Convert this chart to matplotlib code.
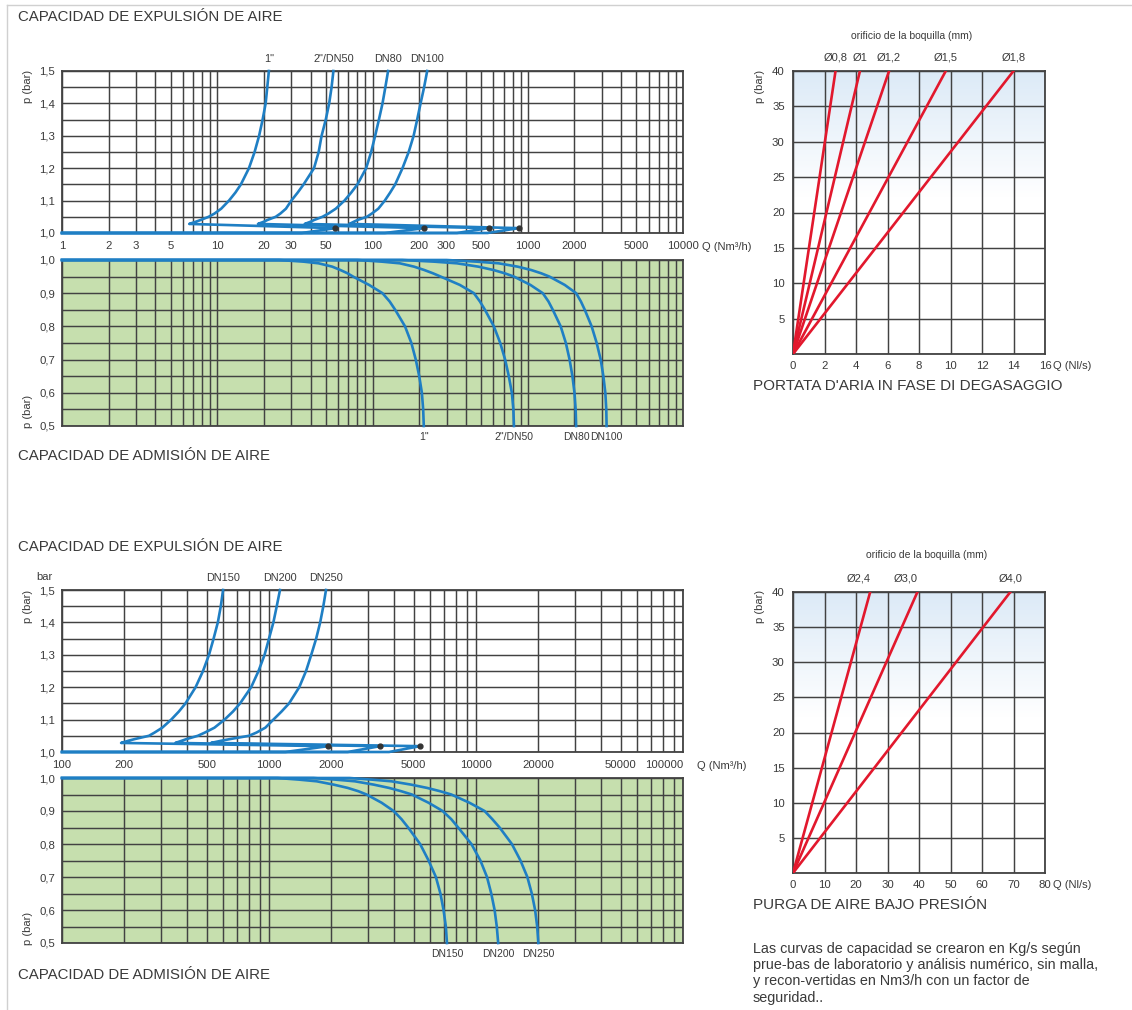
import numpy as np
import matplotlib
matplotlib.use('Agg')
import matplotlib.pyplot as plt
from matplotlib.ticker import FixedLocator, NullFormatter, MultipleLocator
from matplotlib.colors import LinearSegmentedColormap
from matplotlib.lines import Line2D

plt.rcParams['font.family'] = ['Liberation Sans', 'DejaVu Sans']

W, H = 1132, 1010
GRID = '#424242'
TXT = '#3a3a3a'
BLUE = '#1f7fc4'
RED = '#e2182d'
GREEN = '#c6dfae'

# ---- small valves: 1", 2"/DN50, DN80, DN100 (Q in Nm3/h, p in bar)
small_names = ['1"', '2"/DN50', 'DN80', 'DN100']
small_exp_p = [1.028, 1.035, 1.04, 1.05, 1.06, 1.075, 1.1, 1.125, 1.15, 1.2,
               1.25, 1.3, 1.35, 1.4, 1.45, 1.5]
small_exp_q = [
    [6.6, 7.3, 7.8, 8.8, 9.6, 10.6, 11.9, 13.1, 14.2, 16, 17.4, 18.6, 19.6, 20.5, 21.0, 21.5],
    [18.3, 20, 21, 23.8, 25.5, 27.7, 30, 33, 36, 42, 45, 47, 50, 52.6, 54.5, 56],
    [36.6, 40, 42, 47.6, 52, 58, 66, 73, 80, 91, 98, 104, 110, 116, 121, 126],
    [71, 76, 80, 92, 99, 109, 120, 130, 140, 156, 171, 184, 194, 204, 215, 225],
]
small_base_end = [35, 120, 350, 550]
small_dot_q = [57.7, 216, 560, 875]
small_dot_p = 1.015

small_adm_p = [1.0, 1.0, 0.995, 0.99, 0.98, 0.97, 0.96, 0.95, 0.925, 0.9, 0.875,
               0.85, 0.8, 0.75, 0.7, 0.65, 0.6, 0.55, 0.5]
small_adm_q = [
    [1, 25, 36, 45, 55, 62, 69, 75, 95, 116, 129, 140, 162, 178, 190, 200, 208, 212, 214],
    [1, 80, 115, 150, 185, 215, 245, 275, 365, 450, 492, 530, 605, 665, 715, 755, 790, 808, 815],
    [1, 155, 250, 350, 480, 600, 710, 815, 1040, 1250, 1360, 1450, 1630, 1760, 1860, 1940,
     2000, 2035, 2050],
    [1, 300, 470, 650, 860, 1050, 1220, 1380, 1730, 2050, 2200, 2330, 2580, 2780, 2950, 3070,
     3160, 3205, 3220],
]
small_xticks = [1, 2, 3, 5, 10, 20, 30, 50, 100, 200, 300, 500, 1000, 2000, 5000, 10000]

# ---- large valves: DN150, DN200, DN250
large_names = ['DN150', 'DN200', 'DN250']
large_exp_p = small_exp_p
large_exp_q = [
    [193, 210, 225, 263, 280, 305, 337, 367, 395, 442, 480, 513, 540, 566, 585, 600],
    [353, 380, 400, 453, 490, 545, 610, 670, 725, 820, 890, 952, 1000, 1050, 1090, 1130],
    [525, 590, 650, 800, 870, 960, 1050, 1150, 1250, 1400, 1510, 1600, 1690, 1767, 1830, 1885],
]
large_base_end = [1200, 2400, 3800]
large_dot_q = [1930, 3440, 5360]
large_dot_p = 1.018

large_adm_p = small_adm_p
large_adm_q = [
    [100, 1100, 1400, 1700, 2050, 2400, 2700, 2960, 3500, 4000, 4370, 4700, 5370, 5900, 6400,
     6730, 6970, 7150, 7240],
    [100, 1640, 2100, 2600, 3200, 3800, 4350, 4900, 5900, 6900, 7600, 8200, 9500, 10500, 11300,
     11850, 12300, 12600, 12800],
    [100, 2450, 3150, 3900, 4850, 5800, 6700, 7600, 9300, 11000, 12000, 13000, 14900, 16400,
     17700, 18600, 19300, 19750, 20000],
]
large_xticks = [100, 200, 500, 1000, 2000, 5000, 10000, 20000, 50000, 100000]

# ---- nozzle lines (Q in Nl/s reached at 40 bar)
deg_orif = ['Ø0,8', 'Ø1', 'Ø1,2', 'Ø1,5', 'Ø1,8']
deg_q40 = [2.7, 4.25, 6.1, 9.7, 14.0]
purge_orif = ['Ø2,4', 'Ø3,0', 'Ø4,0']
purge_q40 = [24.5, 39.5, 69.0]

fig = plt.figure(figsize=(W / 100, H / 100), dpi=100)


def rect(l, t, r, b):
    return [l / W, 1 - b / H, (r - l) / W, (b - t) / H]


def ftext(x, y, s, **kw):
    kw.setdefault('color', TXT)
    fig.text(x / W, 1 - y / H, s, **kw)


def style(ax):
    ax.grid(True, which='both', color=GRID, lw=1.05)
    ax.set_axisbelow(True)
    ax.tick_params(which='both', length=0, labelsize=8.2, colors=TXT)
    for s in ax.spines.values():
        s.set_color(GRID)
        s.set_linewidth(1.3)


def log_panel(r, qmin, qmax, pmin, pmax, face, xticks=None):
    ax = fig.add_axes(r, facecolor=face)
    ax.set_xscale('log')
    ax.set_xlim(qmin, qmax)
    ax.set_ylim(pmin, pmax)
    k0, k1 = int(round(np.log10(qmin))), int(round(np.log10(qmax)))
    minor = [m * 10.0 ** k for k in range(k0, k1) for m in range(1, 10)]
    ax.xaxis.set_minor_locator(FixedLocator(minor))
    ax.xaxis.set_minor_formatter(NullFormatter())
    if xticks is None:
        ax.set_xticks([10.0 ** k for k in range(k0, k1 + 1)])
        ax.tick_params(labelbottom=False)
    else:
        ax.set_xticks(xticks)
        ax.set_xticklabels([str(v) for v in xticks])
    yv = np.round(np.arange(pmin, pmax + 0.01, 0.1), 1)
    ax.set_yticks(yv)
    ax.set_yticklabels([f'{v:.1f}'.replace('.', ',') for v in yv])
    ax.yaxis.set_minor_locator(MultipleLocator(0.05))
    style(ax)
    ax.tick_params(axis='x', pad=6)
    ax.tick_params(axis='y', pad=5)
    return ax


def expulsion(ax, qmin, names, qs, ps, base_end, dot_q, dot_p):
    for name, q, be, dq in zip(names, qs, base_end, dot_q):
        xx = [qmin, be, dq] + q
        yy = [1.0, 1.0, dot_p] + ps
        ax.plot(xx, yy, color=BLUE, lw=1.9, solid_joinstyle='round', clip_on=False, zorder=3)
        ax.annotate(name, (q[-1], 1), xycoords=('data', 'axes fraction'),
                    xytext=(0, 5), textcoords='offset points', ha='center', va='bottom',
                    fontsize=7.8, color=TXT)
    ax.plot(dot_q, [dot_p] * len(dot_q), 'o', color='#333333', ms=3.5, zorder=4)


def admission(ax, names, qs, ps):
    for name, q in zip(names, qs):
        ax.plot(q, ps, color=BLUE, lw=1.9, solid_joinstyle='round', clip_on=False, zorder=3)
        ax.annotate(name, (q[-1], 0), xycoords=('data', 'axes fraction'),
                    xytext=(0, -4), textcoords='offset points', ha='center', va='top',
                    fontsize=7.5, color=TXT)


def nozzle_panel(r, xmax, xstep, orifs, q40, aligns):
    ax = fig.add_axes(r)
    cmap = LinearSegmentedColormap.from_list('sky', ['#ffffff', '#dceaf7'])
    grad = np.linspace(0, 1, 100).reshape(-1, 1)
    ax.imshow(grad, extent=[0, xmax, 22, 40], origin='lower', aspect='auto', cmap=cmap, zorder=0)
    ax.set_xlim(0, xmax)
    ax.set_ylim(0, 40)
    ax.set_xticks(np.arange(0, xmax + 1, xstep))
    ax.set_yticks(np.arange(0, 41, 5))
    ax.set_yticklabels([''] + [str(v) for v in range(5, 41, 5)])
    style(ax)
    ax.tick_params(axis='x', pad=5)
    ax.tick_params(axis='y', pad=6)
    for name, q, ha in zip(orifs, q40, aligns):
        ax.plot([0, q], [0, 40], color=RED, lw=1.9, zorder=3)
        ax.annotate(name, (q, 40), xytext=(0, 6), textcoords='offset points',
                    ha=ha, va='bottom', fontsize=8, color=TXT)
    return ax


# ---- top block
ax1 = log_panel(rect(62, 71, 683, 233), 1, 10000, 1.0, 1.5, 'white', small_xticks)
expulsion(ax1, 1, small_names, small_exp_q, small_exp_p, small_base_end, small_dot_q, small_dot_p)
ax2 = log_panel(rect(62, 260, 683, 426), 1, 10000, 0.5, 1.0, GREEN)
admission(ax2, small_names, small_adm_q, small_adm_p)

# ---- bottom block
ax3 = log_panel(rect(62, 590, 683, 752), 100, 100000, 1.0, 1.5, 'white', large_xticks)
ax3.get_xticklabels()[-1].set_horizontalalignment('right')
expulsion(ax3, 100, large_names, large_exp_q, large_exp_p, large_base_end, large_dot_q, large_dot_p)
ax4 = log_panel(rect(62, 778, 683, 943), 100, 100000, 0.5, 1.0, GREEN)
admission(ax4, large_names, large_adm_q, large_adm_p)

# ---- right panels
ax5 = nozzle_panel(rect(793, 71, 1045, 354), 16, 2, deg_orif, deg_q40, ['center'] * 5)
ax6 = nozzle_panel(rect(793, 592, 1045, 873), 80, 10, purge_orif, purge_q40, ['right', 'right', 'center'])

# ---- texts
ftext(18, 17, 'CAPACIDAD DE EXPULSIÓN DE AIRE', fontsize=10.8, va='center')
ftext(18, 456, 'CAPACIDAD DE ADMISIÓN DE AIRE', fontsize=10.8, va='center')
ftext(18, 547, 'CAPACIDAD DE EXPULSIÓN DE AIRE', fontsize=10.8, va='center')
ftext(18, 975, 'CAPACIDAD DE ADMISIÓN DE AIRE', fontsize=10.8, va='center')
ftext(702, 247, 'Q (Nm³/h)', fontsize=8, va='center')
ftext(697, 766, 'Q (Nm³/h)', fontsize=8, va='center')
ftext(28, 70, 'p (bar)', fontsize=8, rotation=90, va='top', ha='center')
ftext(28, 428, 'p (bar)', fontsize=8, rotation=90, va='bottom', ha='center')
ftext(28, 590, 'p (bar)', fontsize=8, rotation=90, va='top', ha='center')
ftext(28, 945, 'p (bar)', fontsize=8, rotation=90, va='bottom', ha='center')
ftext(44, 577, 'bar', fontsize=8, va='center', ha='center')

ftext(912, 36, 'orificio de la boquilla (mm)', fontsize=7.5, va='center', ha='center')
ftext(760, 70, 'p (bar)', fontsize=8, rotation=90, va='top', ha='center')
ftext(1053, 366, 'Q (Nl/s)', fontsize=8, va='center')
ftext(753, 386, "PORTATA D'ARIA IN FASE DI DEGASAGGIO", fontsize=11, va='center')

ftext(927, 555, 'orificio de la boquilla (mm)', fontsize=7.5, va='center', ha='center')
ftext(760, 590, 'p (bar)', fontsize=8, rotation=90, va='top', ha='center')
ftext(1053, 885, 'Q (Nl/s)', fontsize=8, va='center')
ftext(753, 905, 'PURGA DE AIRE BAJO PRESIÓN', fontsize=11, va='center')
ftext(753, 942, 'Las curvas de capacidad se crearon en Kg/s según\n'
      'prue-bas de laboratorio y análisis numérico, sin malla,\n'
      'y recon-vertidas en Nm3/h con un factor de\nseguridad..',
      fontsize=10.4, va='top', linespacing=1.2)

# thin page border
fig.add_artist(Line2D([7 / W, 1], [1 - 5 / H, 1 - 5 / H], color='#d0d0d0', lw=1))
fig.add_artist(Line2D([7 / W, 7 / W], [0, 1 - 5 / H], color='#d0d0d0', lw=1))

fig.savefig('out.png', dpi=100)
